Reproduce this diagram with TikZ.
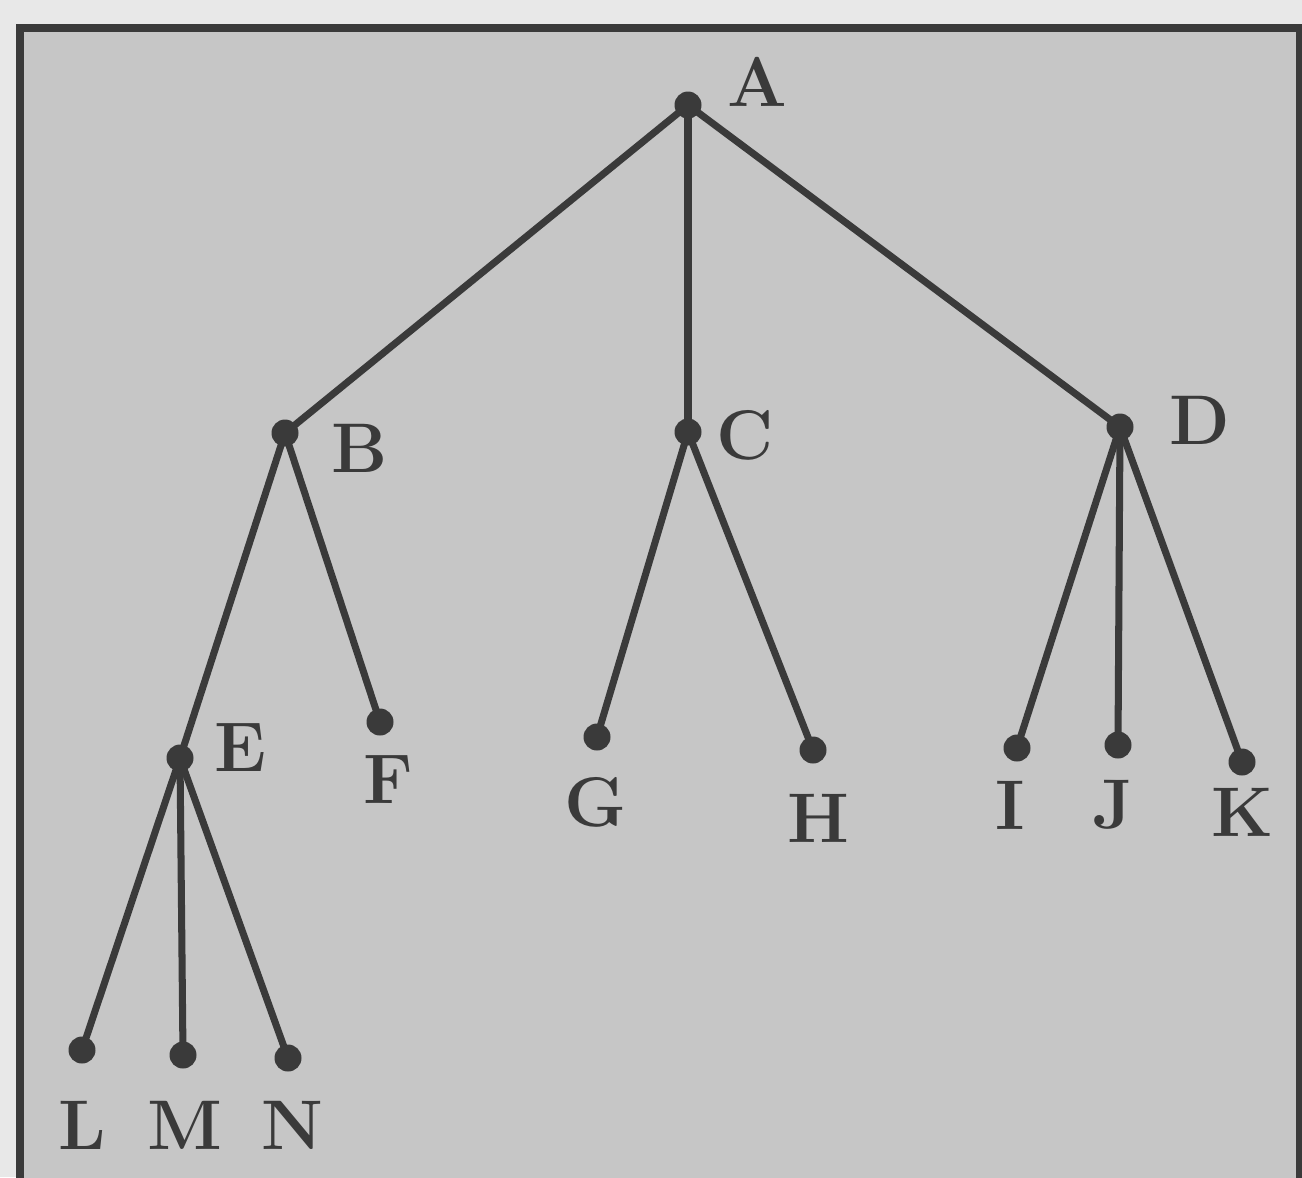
\documentclass[tikz,border=0pt]{standalone}
\definecolor{inkgray}{RGB}{58, 58, 58}
\definecolor{papergray}{RGB}{198, 198, 198}
\definecolor{marginwhite}{RGB}{232, 232, 232}
\usepackage{tikz}
\usetikzlibrary{positioning}
\tikzset{
    vertex/.style={circle, fill=inkgray, inner sep=0pt, minimum size=0.27cm},
    branch/.style={draw=inkgray, line width=2pt, line cap=round},
    letter/.style={font=\fontsize{20}{24}\selectfont\bfseries, text=inkgray, inner sep=0pt}
}

\begin{document}
\begin{tikzpicture}
    % Page and frame
    \useasboundingbox (0,0) rectangle (13.02,-11.77);
    \fill[marginwhite] (0,0) rectangle (13.02,-11.77);
    \draw[inkgray, line width=2.4pt, fill=papergray] (0.20,-11.90) -- (0.20,-0.28) -- (13.00,-0.28) -- (13.00,-11.90);

    % Dots
    \node[vertex] (A) at (6.88,-1.05) {};
    \node[vertex] (B) at (2.85,-4.33) {};
    \node[vertex] (C) at (6.88,-4.32) {};
    \node[vertex] (D) at (11.20,-4.27) {};
    \node[vertex] (E) at (1.80,-7.58) {};
    \node[vertex] (F) at (3.80,-7.22) {};
    \node[vertex] (G) at (5.97,-7.37) {};
    \node[vertex] (H) at (8.13,-7.50) {};
    \node[vertex] (I) at (10.17,-7.48) {};
    \node[vertex] (J) at (11.18,-7.45) {};
    \node[vertex] (K) at (12.42,-7.62) {};
    \node[vertex] (L) at (0.82,-10.50) {};
    \node[vertex] (M) at (1.83,-10.55) {};
    \node[vertex] (N) at (2.88,-10.58) {};

    % Branches
    \draw[branch] (A.center) -- (B.center);
    \draw[branch] (A.center) -- (C.center);
    \draw[branch] (A.center) -- (D.center);
    \draw[branch] (B.center) -- (E.center);
    \draw[branch] (B.center) -- (F.center);
    \draw[branch] (C.center) -- (G.center);
    \draw[branch] (C.center) -- (H.center);
    \draw[branch] (D.center) -- (I.center);
    \draw[branch] (D.center) -- (J.center);
    \draw[branch] (D.center) -- (K.center);
    \draw[branch] (E.center) -- (L.center);
    \draw[branch] (E.center) -- (M.center);
    \draw[branch] (E.center) -- (N.center);

    % Letters
    \node[letter] (lA) at (7.57,-0.82) {A};
    \node[letter] (lB) at (3.60,-4.48) {B};
    \node[letter] (lC) at (7.45,-4.35) {C};
    \node[letter] (lD) at (12.00,-4.20) {D};
    \node[letter] (lE) at (2.40,-7.48) {E};
    \node[letter] (lF) at (3.88,-7.80) {F};
    \node[letter] (lG) at (5.96,-8.02) {G};
    \node[letter] (lH) at (8.18,-8.18) {H};
    \node[letter] (lI) at (10.10,-8.05) {I};
    \node[letter] (lJ) at (11.13,-8.05) {J};
    \node[letter] (lK) at (12.42,-8.12) {K};
    \node[letter] (lL) at (0.82,-11.25) {L};
    \node[letter] (lM) at (1.85,-11.25) {M};
    \node[letter] (lN) at (2.92,-11.25) {N};
\end{tikzpicture}
\end{document}
